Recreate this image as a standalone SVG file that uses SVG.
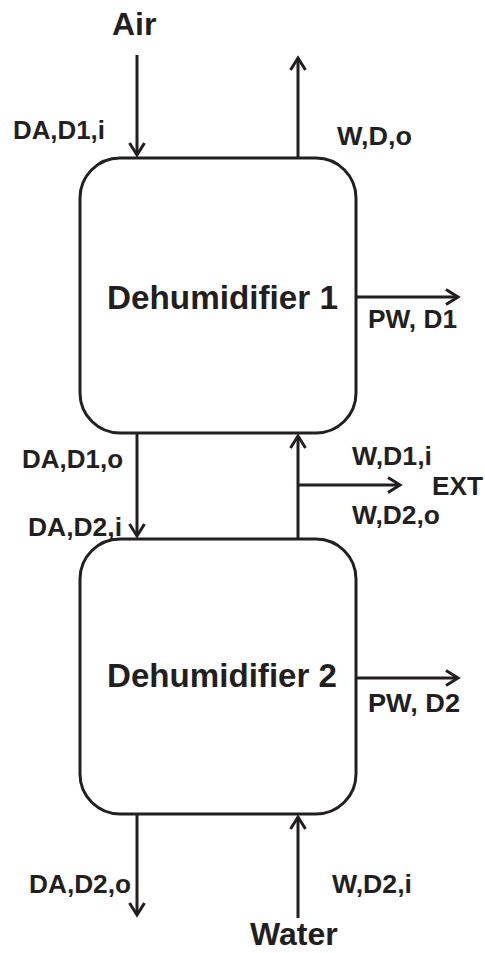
<svg xmlns="http://www.w3.org/2000/svg" width="485" height="953" viewBox="0 0 485 953">
<defs>
<style>
.ln{stroke:#231f20;stroke-width:3;fill:none;marker-end:url(#ah)}
.box{stroke:#231f20;stroke-width:3;fill:#fff}
text{font-family:"Liberation Sans",Arial,sans-serif;font-weight:bold;fill:#231f20}
.lb{font-size:26px}
.big{font-size:32px}
.nm{font-size:33px}
</style>
<marker id="ah" viewBox="-16 -10 20 20" markerWidth="20" markerHeight="20" refX="0" refY="0" orient="auto" markerUnits="userSpaceOnUse">
<path d="M-12,-7.5 L0,0 L-12,7.5" fill="none" stroke="#231f20" stroke-width="3"/>
</marker>
</defs>
<rect width="485" height="953" fill="#fff"/>
<g id="connectors">
<line class="ln" x1="137" y1="55" x2="137" y2="155"/>
<line class="ln" x1="298" y1="158" x2="298" y2="58"/>
<line class="ln" x1="356" y1="297" x2="458" y2="297"/>
<line class="ln" x1="137" y1="433" x2="137" y2="536"/>
<line class="ln" x1="298" y1="539" x2="298" y2="436"/>
<line class="ln" x1="298" y1="485" x2="400" y2="485"/>
<line class="ln" x1="356" y1="678" x2="458" y2="678"/>
<line class="ln" x1="137" y1="814" x2="137" y2="915"/>
<line class="ln" x1="298" y1="918" x2="298" y2="817"/>
</g>
<g id="dehumidifier1">
<rect class="box" x="80" y="158" width="276" height="275" rx="40" ry="40"/>
<text class="nm" x="107" y="309" textLength="231" lengthAdjust="spacingAndGlyphs">Dehumidifier 1</text>
</g>
<g id="dehumidifier2">
<rect class="box" x="80" y="539" width="276" height="275" rx="40" ry="40"/>
<text class="nm" x="107" y="687" textLength="230" lengthAdjust="spacingAndGlyphs">Dehumidifier 2</text>
</g>
<g id="labels">
<text class="big" x="112" y="35">Air</text>
<text class="big" x="250" y="945">Water</text>
<text class="lb" x="13" y="139" textLength="92" lengthAdjust="spacingAndGlyphs">DA,D1,i</text>
<text class="lb" x="337" y="145" textLength="75" lengthAdjust="spacingAndGlyphs">W,D,o</text>
<text class="lb" x="368" y="328" textLength="89" lengthAdjust="spacingAndGlyphs">PW, D1</text>
<text class="lb" x="22" y="468" textLength="101" lengthAdjust="spacingAndGlyphs">DA,D1,o</text>
<text class="lb" x="28" y="536" textLength="94" lengthAdjust="spacingAndGlyphs">DA,D2,i</text>
<text class="lb" x="352" y="465" textLength="80" lengthAdjust="spacingAndGlyphs">W,D1,i</text>
<text class="lb" x="352" y="524" textLength="88" lengthAdjust="spacingAndGlyphs">W,D2,o</text>
<text class="lb" x="432" y="495" textLength="51" lengthAdjust="spacingAndGlyphs">EXT</text>
<text class="lb" x="368" y="712" textLength="92" lengthAdjust="spacingAndGlyphs">PW, D2</text>
<text class="lb" x="29" y="893" textLength="102" lengthAdjust="spacingAndGlyphs">DA,D2,o</text>
<text class="lb" x="332" y="893" textLength="80" lengthAdjust="spacingAndGlyphs">W,D2,i</text>
</g>
</svg>
